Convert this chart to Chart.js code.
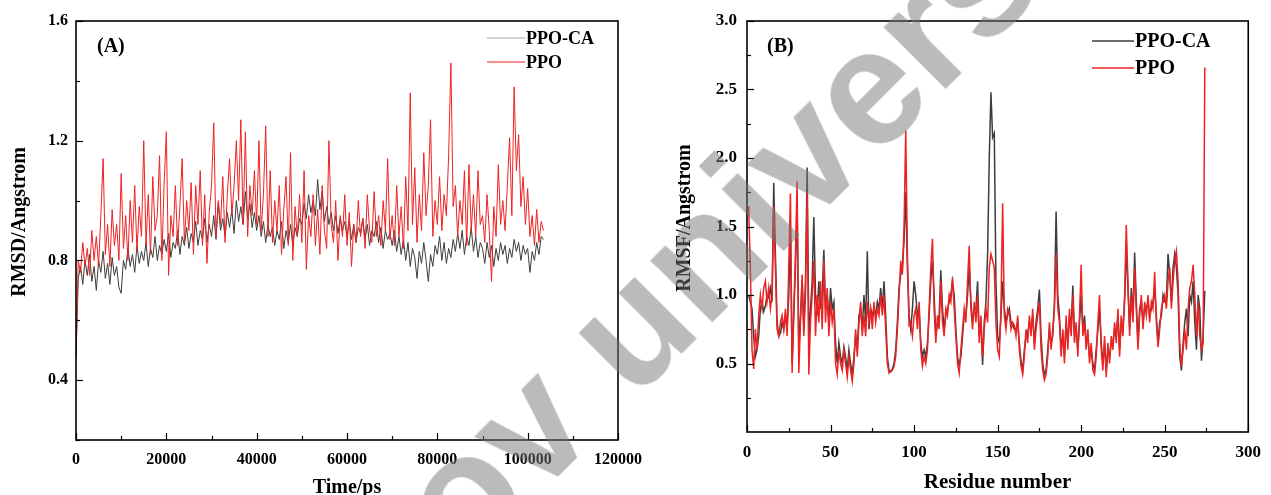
<!DOCTYPE html>
<html><head><meta charset="utf-8">
<script src="https://cdn.jsdelivr.net/npm/chart.js@4.4.1/dist/chart.umd.min.js"></script>
<style>
html,body{margin:0;padding:0;background:#fff;width:1271px;height:495px;overflow:hidden;position:relative;}
#wrapA{position:absolute;left:0;top:0;width:680px;height:495px;}
#wrapB{position:absolute;left:640px;top:0;width:631px;height:495px;}
#wm{position:absolute;left:366px;top:472px;font:bold 165px "Liberation Sans",Arial,sans-serif;line-height:1;color:rgba(120,120,120,0.5);transform-origin:0 0;transform:rotate(-45deg);white-space:nowrap;pointer-events:none;}
</style></head><body>
<div id="wrapA"><canvas id="cA" width="680" height="495"></canvas></div>
<div id="wrapB"><canvas id="cB" width="631" height="495"></canvas></div>
<div id="wm">ov univers</div>
<script>
// ---------- Panel A : RMSD vs time (sampled every 500 ps) ----------
const rmsdStepPs = 500;
const rmsdPPO = [
0.47,0.80,0.76,0.86,0.78,0.84,0.75,0.90,0.80,0.88,0.78,0.95,1.14,0.82,0.92,0.78,0.97,0.85,0.92,0.80,
1.09,0.84,0.95,0.80,1.00,0.86,1.05,0.83,0.98,0.88,1.20,0.85,1.02,0.82,1.08,0.90,0.95,1.15,0.80,1.05,
1.23,0.75,0.95,0.88,1.05,0.85,0.98,1.14,0.86,1.00,0.90,1.06,0.82,1.05,0.92,1.10,0.85,1.02,0.79,0.96,
1.05,1.26,0.88,1.00,0.92,1.08,0.86,1.02,1.14,0.95,1.05,1.20,1.00,1.27,0.92,1.23,0.88,1.05,0.95,1.10,
0.92,1.20,0.90,1.02,1.25,0.88,1.10,0.86,1.00,0.90,1.05,0.82,0.97,1.08,0.85,1.16,0.80,0.98,0.88,1.02,
0.86,1.10,0.77,0.95,0.88,1.02,0.85,0.97,0.82,1.05,0.90,0.84,1.20,0.92,0.86,1.00,0.80,0.95,0.88,1.02,
0.85,0.96,0.78,0.92,0.86,1.00,0.88,0.94,0.84,1.02,0.90,0.86,1.03,0.88,0.95,0.85,1.00,0.90,1.14,0.87,
0.95,0.85,1.05,0.88,0.98,0.84,1.08,0.90,1.36,0.92,1.11,0.86,1.02,0.90,1.16,0.95,1.05,1.27,0.88,1.00,
0.92,1.08,0.90,1.02,0.95,1.15,1.46,0.98,1.05,0.88,1.00,0.92,1.10,0.85,1.12,0.90,1.02,0.88,1.10,0.92,
0.95,0.86,1.02,0.90,0.73,0.98,0.88,1.12,0.92,1.00,0.90,1.05,1.21,0.95,1.38,1.10,1.22,0.98,1.08,0.92,
1.04,0.88,0.95,0.85,0.97,0.86,0.93,0.90
];
const rmsdPPOCA = [
0.48,0.74,0.78,0.72,0.80,0.75,0.82,0.73,0.78,0.70,0.80,0.76,0.83,0.74,0.79,0.72,0.81,0.75,0.78,0.71,
0.69,0.80,0.77,0.84,0.78,0.82,0.76,0.85,0.79,0.83,0.80,0.86,0.78,0.84,0.81,0.88,0.80,0.85,0.82,0.87,
0.83,0.89,0.81,0.86,0.84,0.90,0.82,0.88,0.85,0.91,0.84,0.89,0.86,0.93,0.85,0.90,0.87,0.94,0.86,0.92,
0.88,0.95,0.87,0.99,0.90,0.94,0.88,0.96,0.91,0.97,0.89,1.00,0.93,0.98,0.92,1.03,0.94,0.99,0.91,0.96,
0.90,0.95,0.88,0.93,0.86,0.92,0.88,0.91,0.85,0.90,0.87,0.93,0.84,0.90,0.86,0.92,0.85,0.91,0.88,0.94,
0.92,0.99,0.94,1.02,0.96,1.00,0.95,1.07,0.97,1.03,0.93,0.98,0.92,0.96,0.90,0.95,0.89,0.94,0.90,0.93,
0.88,0.93,0.87,0.92,0.86,0.91,0.89,0.94,0.87,0.92,0.85,0.90,0.88,0.93,0.86,0.91,0.84,0.90,0.87,0.89,
0.85,0.90,0.83,0.88,0.82,0.87,0.80,0.86,0.78,0.84,0.81,0.74,0.83,0.79,0.86,0.80,0.73,0.82,0.78,0.85,
0.82,0.88,0.80,0.86,0.79,0.84,0.81,0.87,0.83,0.89,0.84,0.90,0.82,0.88,0.85,0.91,0.83,0.88,0.81,0.86,
0.84,0.79,0.86,0.81,0.85,0.78,0.84,0.80,0.86,0.82,0.85,0.79,0.84,0.81,0.87,0.83,0.86,0.80,0.85,0.82,
0.84,0.76,0.83,0.80,0.86,0.82,0.88,0.87
];
const xTicksA = [0,20000,40000,60000,80000,100000,120000];
const xTickLabelsA = ['0','20000','40000','60000','80000','100000','120000'];
const xMinorA = [10000,30000,50000,70000,90000,110000];
const yTicksA = [0.4,0.8,1.2,1.6];
const yTickLabelsA = ['0.4','0.8','1.2','1.6'];
const yMinorA = [0.2,0.6,1.0,1.4];

// ---------- Panel B : RMSF vs residue ----------
const rmsfPPO = [
1.65,1.20,0.60,0.46,0.75,0.60,0.85,1.00,0.90,1.05,
1.10,0.95,1.05,0.90,1.00,1.65,1.20,0.75,0.70,0.80,
0.85,0.75,0.90,0.70,1.20,1.74,0.43,0.90,1.30,1.83,
0.43,0.80,1.15,0.70,1.00,1.75,0.42,0.80,1.00,1.25,
0.70,1.00,0.80,1.10,0.75,1.25,0.80,1.05,0.70,0.95,
0.80,0.90,0.50,0.42,0.60,0.50,0.45,0.60,0.50,0.40,
0.55,0.45,0.37,0.50,0.75,0.55,0.80,0.95,0.70,0.85,
0.70,0.95,0.80,0.90,0.75,0.95,0.80,0.90,0.85,1.00,
0.85,1.00,0.75,0.50,0.43,0.44,0.45,0.48,0.55,0.75,
1.00,1.25,1.15,1.50,2.20,1.30,0.78,0.80,0.70,0.85,
0.90,0.75,0.95,0.60,0.48,0.55,0.50,0.60,0.90,1.20,
1.41,0.90,0.65,0.85,0.75,1.10,0.80,0.70,0.90,0.85,
1.00,0.95,1.13,0.90,0.70,0.50,0.43,0.60,0.75,0.90,
0.80,1.10,1.36,0.90,0.75,0.95,0.80,1.00,0.65,0.85,
0.55,0.75,0.90,0.80,1.20,1.30,1.25,1.20,0.80,0.60,
0.55,0.90,1.67,0.85,0.75,0.90,0.87,0.75,0.80,0.78,
0.70,0.85,0.60,0.48,0.42,0.55,0.75,0.65,0.85,0.70,
0.90,0.60,0.75,0.85,0.95,0.60,0.45,0.38,0.42,0.55,
0.80,0.60,0.75,0.90,1.30,0.90,0.80,0.55,0.75,0.50,
0.85,0.60,0.90,0.70,1.00,0.65,0.80,0.55,0.85,1.22,
0.70,0.80,0.60,0.75,0.50,0.65,0.45,0.42,0.55,0.80,
1.00,0.60,0.45,0.70,0.40,0.65,0.50,0.70,0.60,0.80,
0.65,0.90,0.55,0.85,0.70,1.00,1.51,1.10,0.70,1.00,
0.80,1.20,0.90,0.60,0.85,1.00,0.75,0.95,0.85,1.00,
0.80,0.95,0.90,1.17,0.80,0.62,0.75,0.90,0.95,1.00,
0.90,1.10,1.20,0.90,1.10,1.25,1.32,1.10,0.65,0.48,
0.60,0.75,0.60,0.90,1.05,1.10,1.22,1.00,0.70,0.95,
0.70,0.60,0.65,2.66
];
const rmsfPPOCA = [
1.00,0.95,0.90,0.70,0.55,0.60,0.70,0.90,0.95,0.88,
0.92,1.00,0.98,1.05,0.95,1.82,1.30,0.80,0.70,0.72,
0.80,0.75,0.85,0.75,1.00,1.45,0.50,0.85,1.20,1.65,
0.60,0.85,1.10,0.75,1.10,1.93,0.70,0.90,1.10,1.57,
1.00,0.85,1.10,0.90,1.00,1.33,0.90,1.00,0.80,1.05,
0.90,0.95,0.65,0.50,0.65,0.55,0.50,0.62,0.55,0.45,
0.60,0.50,0.42,0.55,0.70,0.60,0.85,0.90,0.75,1.00,
0.80,1.32,0.75,0.90,0.85,0.90,0.85,0.95,0.90,1.05,
0.90,1.10,0.85,0.55,0.45,0.44,0.46,0.50,0.60,0.80,
1.05,1.15,1.20,1.40,1.75,1.20,0.85,0.75,0.90,1.10,
1.00,0.85,0.90,0.65,0.55,0.60,0.55,0.65,0.85,1.10,
1.25,1.00,0.70,0.80,0.85,1.18,0.90,0.75,0.85,0.90,
0.95,1.00,1.10,1.00,0.75,0.55,0.48,0.55,0.70,0.85,
0.85,1.00,1.20,0.95,0.80,0.90,0.90,1.10,0.70,0.80,
0.49,0.80,0.95,1.30,2.00,2.48,2.15,2.18,1.10,0.70,
0.65,0.85,1.10,0.90,0.80,0.85,0.90,0.80,0.78,0.75,
0.75,0.80,0.65,0.52,0.45,0.60,0.70,0.72,0.80,0.75,
0.85,0.65,0.80,0.90,1.04,0.70,0.50,0.42,0.45,0.60,
0.75,0.65,0.70,0.95,1.61,1.00,0.85,0.60,0.70,0.55,
0.80,0.65,0.85,0.75,1.07,0.70,0.75,0.60,0.80,1.00,
0.75,0.85,0.65,0.70,0.55,0.60,0.50,0.45,0.60,0.75,
0.90,0.65,0.50,0.65,0.45,0.60,0.55,0.65,0.65,0.75,
0.70,0.85,0.60,0.80,0.75,0.95,1.35,1.05,0.75,1.05,
0.85,1.31,0.95,0.65,0.90,0.95,0.80,0.90,0.90,0.95,
0.85,0.90,0.95,1.05,0.85,0.65,0.80,0.85,1.00,0.95,
0.95,1.30,1.15,0.95,1.20,1.30,1.20,1.00,0.55,0.45,
0.65,0.80,0.90,0.70,1.00,0.95,1.10,0.80,0.60,1.00,
0.90,0.52,0.70,1.03
];
const firstResidue = 1;
const xTicksB = [0,50,100,150,200,250,300];
const xTickLabelsB = ['0','50','100','150','200','250','300'];
const xMinorB = [25,75,125,175,225,275];
const yTicksB = [0.5,1.0,1.5,2.0,2.5,3.0];
const yTickLabelsB = ['0.5','1.0','1.5','2.0','2.5','3.0'];
const yMinorB = [0.25,0.75,1.25,1.75,2.25,2.75];

const seriesNames = ['PPO-CA','PPO'];
const GRAY = '#3d3d3d', RED = '#ee2222';
const SERIF = '"Liberation Serif","Times New Roman",serif';

const ptsA = (arr) => arr.map((v,i)=>({x:i*rmsdStepPs, y:v}));
const ptsB = (arr) => arr.map((v,i)=>({x:i+firstResidue, y:v}));

function decorPlugin(p){
  return {
    id:'decor',
    afterDraw(chart){
      const ctx = chart.ctx, a = chart.chartArea, xs = chart.scales.x, ys = chart.scales.y;
      ctx.save();
      ctx.strokeStyle = '#000';
      ctx.lineWidth = 1.2;
      const seg=(x1,y1,x2,y2)=>{ctx.beginPath();ctx.moveTo(x1,y1);ctx.lineTo(x2,y2);ctx.stroke();};
      p.xMajor.forEach(v=>{const x=Math.round(xs.getPixelForValue(v))+0.5; seg(x,a.bottom,x,a.bottom-7);});
      p.xMinor.forEach(v=>{const x=Math.round(xs.getPixelForValue(v))+0.5; seg(x,a.bottom,x,a.bottom-4);});
      p.yMajor.forEach(v=>{const y=Math.round(ys.getPixelForValue(v))+0.5; seg(a.left,y,a.left+7,y);});
      p.yMinor.forEach(v=>{const y=Math.round(ys.getPixelForValue(v))+0.5; seg(a.left,y,a.left+4,y);});
      ctx.lineWidth = 1.6;
      ctx.strokeRect(a.left, a.top, a.right-a.left, a.bottom-a.top);
      // legend
      ctx.textBaseline='middle'; ctx.textAlign='left'; ctx.fillStyle='#000';
      ctx.font = 'bold '+p.legFont+'px '+SERIF;
      p.legend.forEach(it=>{
        ctx.strokeStyle = it.color; ctx.lineWidth = it.w;
        seg(p.legX1, it.y, p.legX2, it.y);
        ctx.fillStyle='#000';
        ctx.fillText(it.text, p.legX2+1, it.y+1);
      });
      ctx.font = 'bold 20px '+SERIF;
      ctx.fillText(p.label, p.labelX, p.labelY);
      // rotated y-axis title
      ctx.save();
      ctx.translate(p.yTitleX, p.yTitleY);
      ctx.rotate(-Math.PI/2);
      ctx.textAlign='center'; ctx.textBaseline='middle';
      ctx.font = 'bold 20px '+SERIF;
      ctx.fillText(p.yTitle, 0, 0);
      ctx.restore();
      ctx.restore();
    }
  };
}

function axisCfg(min,max,ticks,labels,size,pad,fit,isX,title){
  return {
    type:'linear', min:min, max:max,
    afterBuildTicks:(s)=>{ s.ticks = ticks.map(v=>({value:v})); },
    ticks:{ callback:(v,i)=>labels[i], font:{family:SERIF, weight:'bold', size:size}, color:'#000', padding:pad, maxRotation:0, autoSkip:false },
    grid:{ display:false, drawTicks:false }, border:{ display:false },
    title: title,
    afterFit:(s)=>{ if(isX) s.height = fit; else s.width = fit; }
  };
}

// Chart A
new Chart(document.getElementById('cA'), {
  type:'line',
  data:{ datasets:[
    { label:seriesNames[0], data:ptsA(rmsdPPOCA), borderColor:GRAY, borderWidth:1, order:2 },
    { label:seriesNames[1], data:ptsA(rmsdPPO), borderColor:RED, borderWidth:1, order:1 }
  ]},
  options:{
    responsive:false, animation:false, events:[], parsing:false, normalized:true,
    elements:{ point:{radius:0}, line:{tension:0} },
    layout:{ padding:{left:0, top:21, right:62, bottom:0} },
    plugins:{ legend:{display:false}, tooltip:{enabled:false} },
    scales:{
      x: axisCfg(0,120000,xTicksA,xTickLabelsA,16,10,55,true,
          {display:true, text:'Time/ps', color:'#000', font:{family:SERIF, weight:'bold', size:20, lineHeight:0.7}, padding:0}),
      y: axisCfg(0.2,1.6,yTicksA,yTickLabelsA,16,8,76,false, {display:false})
    }
  },
  plugins:[decorPlugin({xMajor:xTicksA, xMinor:xMinorA, yMajor:yTicksA, yMinor:yMinorA,
    legFont:18, legX1:487, legX2:525,
    legend:[{text:seriesNames[0], color:'#a8a8a8', w:1.2, y:38},{text:seriesNames[1], color:RED, w:1.2, y:62}],
    label:'(A)', labelX:97, labelY:47,
    yTitle:'RMSD/Angstrom', yTitleX:20, yTitleY:222})]
});

// Chart B
new Chart(document.getElementById('cB'), {
  type:'line',
  data:{ datasets:[
    { label:seriesNames[0], data:ptsB(rmsfPPOCA), borderColor:GRAY, borderWidth:1.5, order:2 },
    { label:seriesNames[1], data:ptsB(rmsfPPO), borderColor:RED, borderWidth:1.5, order:1 }
  ]},
  options:{
    responsive:false, animation:false, events:[], parsing:false, normalized:true,
    elements:{ point:{radius:0}, line:{tension:0} },
    layout:{ padding:{left:0, top:21, right:14, bottom:0} },
    plugins:{ legend:{display:false}, tooltip:{enabled:false} },
    scales:{
      x: axisCfg(0,300,xTicksB,xTickLabelsB,17,10,63,true,
          {display:true, text:'Residue number', color:'#000', font:{family:SERIF, weight:'bold', size:21, lineHeight:1}, padding:{top:0,bottom:2}}),
      y: axisCfg(0,3.0,yTicksB,yTickLabelsB,17,10,107,false, {display:false})
    }
  },
  plugins:[decorPlugin({xMajor:xTicksB, xMinor:xMinorB, yMajor:yTicksB, yMinor:yMinorB,
    legFont:20, legX1:452, legX2:494,
    legend:[{text:seriesNames[0], color:GRAY, w:1.5, y:41},{text:seriesNames[1], color:RED, w:1.5, y:68}],
    label:'(B)', labelX:127, labelY:47,
    yTitle:'RMSF/Angstrom', yTitleX:45, yTitleY:218})]
});
</script>
</body></html>
